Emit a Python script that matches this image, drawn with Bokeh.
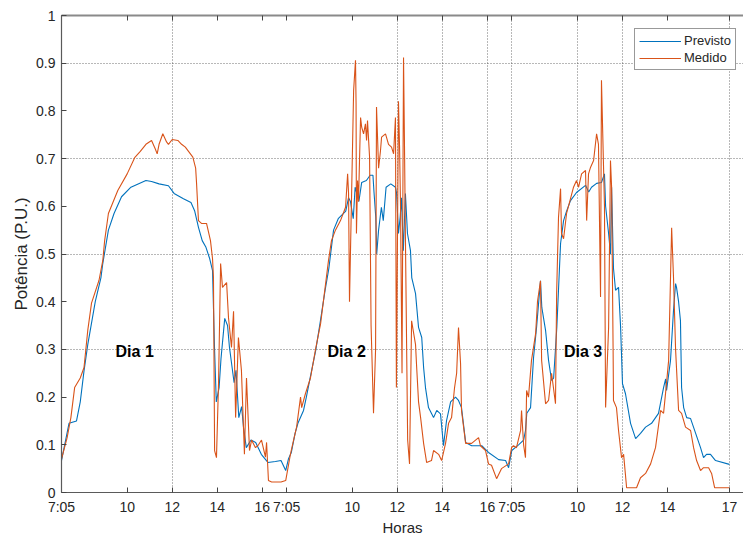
from bokeh.plotting import figure
from bokeh.models import FixedTicker, LinearAxis, Range1d, NumeralTickFormatter
from bokeh.core.properties import value
from bokeh.embed import file_html
from bokeh.resources import INLINE

FONT = "Liberation Sans"

# x = sample index (5-minute steps, 120 samples per day, 7:05 .. 17:00)
prev_idx = [0, 4, 8, 10, 12, 14, 18, 21, 22, 25, 28, 32, 37, 45, 48, 52, 57, 60, 65, 69, 71, 73, 75, 77, 79,
            80.5, 81.5, 82.5, 84, 85, 87, 88.5, 89.5, 92, 93, 94.5, 96, 97, 98.5, 101, 103.5, 106.5, 110, 114, 117, 119.5,
            121, 122.5, 124.5, 126, 129, 130.5, 132.5, 135.5, 138, 140.5, 142.5, 145, 147.5, 151.5, 153, 154, 155.5,
            156.5, 158.5, 160, 162.5, 164.5, 166, 166.5, 167.5, 168, 169, 170.5, 171.5, 173, 175.5, 178, 178.6, 179.6,
            180.5, 181.2, 182.2, 183.3, 184.4, 186, 186.7, 188.7, 190.3, 192, 193, 194, 195.6, 198.3, 200, 202, 203.6,
            205.2, 207.4, 210, 211.6, 213.2, 215.4, 218.6, 224, 227.6, 233, 236.7, 238.3,
            240, 243.6, 246.3, 247.3, 248, 250, 251.6, 253.2, 255.3, 256, 258, 259.6, 261.2, 262.3, 264, 266, 267.6,
            269.2, 271.3, 274.5, 279.3, 281, 282.5, 285.2, 287.8, 289.4, 290, 291.6, 292.6, 293.2, 294.2, 295.3, 296.9,
            298, 299, 300.6, 303.3, 306, 308.6, 311.3, 314.5, 318.2, 320.9, 322, 322.5, 324.6, 326.2, 327.3, 327.8,
            328.9, 329.9, 330.5, 331.6, 333.2, 335.3, 338, 340.6, 342.2, 343.8, 345.9, 348.6, 356]
prev_val = [0.067, 0.145, 0.15, 0.19, 0.255, 0.31, 0.40, 0.45, 0.48, 0.55, 0.585, 0.62, 0.64, 0.654, 0.652, 0.647,
            0.643, 0.627, 0.616, 0.608, 0.59, 0.556, 0.528, 0.514, 0.49,
            0.465, 0.31, 0.19, 0.22, 0.28, 0.365, 0.35, 0.305, 0.23, 0.256, 0.157, 0.18, 0.137, 0.094, 0.11, 0.105,
            0.08, 0.063, 0.065, 0.067, 0.046,
            0.071, 0.084, 0.124, 0.145, 0.172, 0.2, 0.24, 0.298, 0.36, 0.424, 0.47, 0.55, 0.574, 0.59, 0.618, 0.61,
            0.574, 0.64, 0.61, 0.65, 0.654, 0.665, 0.665, 0.633, 0.577, 0.5, 0.55, 0.598, 0.57, 0.64, 0.647, 0.64,
            0.627, 0.543, 0.577, 0.618, 0.507, 0.627, 0.543, 0.507, 0.45, 0.417, 0.346, 0.325, 0.262, 0.22, 0.178,
            0.157, 0.172, 0.165, 0.098, 0.15, 0.19, 0.2, 0.193, 0.178, 0.105, 0.098, 0.098, 0.084, 0.069, 0.067, 0.052,
            0.088, 0.1, 0.11, 0.13, 0.166, 0.178, 0.283, 0.346, 0.444, 0.388, 0.34, 0.277, 0.235, 0.24, 0.346, 0.522,
            0.57, 0.59, 0.612, 0.629, 0.644, 0.63, 0.64, 0.648, 0.65, 0.668, 0.6, 0.543, 0.5, 0.64, 0.47, 0.424, 0.43,
            0.346, 0.228, 0.207, 0.145, 0.113, 0.124, 0.137, 0.145, 0.166, 0.22, 0.238, 0.214, 0.277, 0.382, 0.438,
            0.43, 0.4, 0.36, 0.22, 0.178, 0.157, 0.155, 0.124, 0.094, 0.073, 0.08, 0.08, 0.067, 0.059]

med_idx = [0, 3, 5, 7, 10, 12, 14, 16, 20, 22, 23, 25, 30, 35, 39, 42, 45, 48, 50, 51, 52, 54, 56, 57, 59, 62, 64,
           66, 70, 71.5, 72, 73, 74.6, 77.3, 79.4, 80.5, 81, 81.6, 82.6, 83.7, 84.8, 85.8, 88, 89, 90.6, 91.7, 92.8,
           94.3, 95.9, 97.5, 98.6, 100.2, 101.3, 103.4, 105, 106.6, 108.7, 109.3, 110.3, 112, 117, 119.5,
           122, 123.7, 125.3, 127.4, 128, 130, 132.7, 135.4, 138.1, 142.3, 143.9, 146, 148.7, 151.4, 152.5, 153,
           153.5, 155.7, 156.7, 157, 157.2, 157.8, 158.3, 159.4, 160, 161, 162, 162.6, 163.1, 164.2, 165, 166.3,
           167.4, 167.9, 169, 170, 170.6, 172.7, 174.3, 175.9, 177, 178, 178.5, 179.6, 180.2, 180.7, 181.5, 182.3,
           182.8, 183.4, 184.5, 185.5, 186.6, 188.7, 189.2, 190.3, 191.4, 193, 194.6, 197.2, 198.3, 201, 202.6,
           204.7, 206.3, 207.9, 209.5, 210.6, 211.6, 212.7, 213.2, 215.4, 218.6, 222.3, 223.3, 226, 227.6, 229.2,
           231.9, 234.5, 238.3,
           239.9, 240.9, 242.5, 244.7, 245.2, 246.3, 247.3, 247.9, 248.9, 250.5, 252.7, 253.7, 255.3, 255.9, 258,
           259.6, 261.2, 263.3, 263.9, 264.9, 266, 266.5, 267.6, 269.2, 271.3, 272.9, 274.5, 275.6, 277.2, 279.3,
           279.9, 280.9, 282, 283.6, 285.2, 286.2, 287.3, 287.8, 289.4, 290, 291.6, 292.6, 293.2, 294, 294.2, 295.8,
           296.9, 298.5, 299.6, 301.2, 306.5, 308.6, 311.3, 314, 316.6, 319.3, 320.9, 322, 323.6, 325.2, 326.2,
           327.3, 328.9, 330.5, 332.6, 335.3, 336.9, 338.5, 340.6, 342.2, 344.9, 346.5, 348.1, 356]
med_val = [0.07, 0.115, 0.157, 0.22, 0.24, 0.262, 0.34, 0.397, 0.445, 0.486, 0.528, 0.585, 0.633, 0.668, 0.702,
           0.715, 0.73, 0.738, 0.72, 0.71, 0.73, 0.752, 0.735, 0.73, 0.74, 0.738, 0.73, 0.724, 0.703, 0.68, 0.647,
           0.57, 0.564, 0.564, 0.528, 0.49, 0.45, 0.088, 0.073, 0.23, 0.48, 0.43, 0.44, 0.367, 0.304, 0.38, 0.157,
           0.325, 0.256, 0.08, 0.24, 0.088, 0.11, 0.094, 0.1, 0.11, 0.074, 0.105, 0.025, 0.022, 0.022, 0.025,
           0.08, 0.11, 0.137, 0.2, 0.178, 0.207, 0.24, 0.3, 0.354, 0.486, 0.528, 0.55, 0.57, 0.598, 0.668, 0.627,
           0.4, 0.843, 0.906, 0.815, 0.543, 0.654, 0.61, 0.786, 0.766, 0.752, 0.773, 0.738, 0.78, 0.703, 0.35, 0.166,
           0.3, 0.808, 0.68, 0.716, 0.745, 0.752, 0.73, 0.724, 0.71, 0.786, 0.22, 0.82, 0.72, 0.6, 0.25, 0.912,
           0.73, 0.5, 0.11, 0.06, 0.36, 0.31, 0.27, 0.19, 0.157, 0.103, 0.063, 0.067, 0.088, 0.08, 0.067,
           0.103, 0.145, 0.157, 0.22, 0.25, 0.346, 0.27, 0.172, 0.103, 0.103, 0.115, 0.098, 0.088, 0.06, 0.057,
           0.029, 0.05, 0.06,
           0.094, 0.098, 0.094, 0.13, 0.172, 0.1, 0.073, 0.214, 0.2, 0.277, 0.333, 0.4, 0.444, 0.277, 0.186,
           0.193, 0.25, 0.186, 0.417, 0.577, 0.637, 0.543, 0.532, 0.585, 0.616, 0.64, 0.654, 0.64, 0.668, 0.675,
           0.57, 0.668, 0.682, 0.696, 0.752, 0.73, 0.41, 0.864, 0.6, 0.178, 0.346, 0.696, 0.64, 0.3, 0.193, 0.178,
           0.13, 0.073, 0.08, 0.01, 0.01, 0.031, 0.04, 0.06, 0.094, 0.172, 0.166, 0.21, 0.277, 0.555, 0.45,
           0.3, 0.172, 0.166, 0.137, 0.13, 0.094, 0.067, 0.046, 0.052, 0.052, 0.04, 0.01, 0.01]

series_names = ["Previsto", "Medido"]
series_colors = ["#0072BD", "#D95319"]

x_ticks = [0, 35, 59, 83, 107, 120, 155, 179, 203, 227, 240, 275, 299, 323, 356]
x_labels = ["7:05", "10", "12", "14", "16", "7:05", "10", "12", "14", "16", "7:05", "10", "12", "14", "17"]
x_grid = [59, 179, 203, 227, 240, 275, 299, 356]
y_ticks = [0, 0.1, 0.2, 0.3, 0.4, 0.5, 0.6, 0.7, 0.8, 0.9, 1.0]
y_grid = [0.3, 0.5, 0.7, 0.9]

day_labels = ["Dia 1", "Dia 2", "Dia 3"]
day_label_x = [39, 152, 278]
day_label_y = [0.295, 0.295, 0.295]

p = figure(frame_width=682, frame_height=477, x_range=Range1d(0, 363.5), y_range=Range1d(0, 1),
           output_backend="svg", toolbar_location=None,
           min_border_left=61, min_border_right=0, min_border_top=15, min_border_bottom=10,
           x_axis_label="Horas", y_axis_label="Potência (P.U.)")
p.outline_line_color = None
p.background_fill_color = "white"
p.border_fill_color = "white"

p.xaxis.ticker = FixedTicker(ticks=x_ticks)
p.xaxis.major_label_overrides = {t: l for t, l in zip(x_ticks, x_labels)}
p.yaxis.ticker = FixedTicker(ticks=y_ticks)
p.yaxis.formatter = NumeralTickFormatter(format="0.[0]")

for ax in (p.xaxis, p.yaxis):
    ax.major_tick_in = 5
    ax.major_tick_out = 0
    ax.minor_tick_line_color = None
    ax.axis_line_color = "#5a5a5a"
    ax.axis_line_width = 1.2
    ax.major_tick_line_color = "#444444"
    ax.major_label_text_font = FONT
    ax.major_label_text_font_size = "14px"
    ax.major_label_text_color = "#262626"
    ax.axis_label_text_font = FONT
    ax.axis_label_text_font_style = "normal"
    ax.axis_label_text_color = "#262626"
p.xaxis.axis_label_text_font_size = "15px"
p.yaxis.axis_label_text_font_size = "17px"
p.xaxis.major_label_standoff = 6
p.xaxis.axis_label_standoff = 1
p.yaxis.major_label_standoff = 6
p.yaxis.axis_label_standoff = 2

top = LinearAxis(ticker=FixedTicker(ticks=x_ticks), major_tick_in=5, major_tick_out=0,
                 minor_tick_line_color=None, major_label_standoff=0,
                 major_label_overrides={t: "" for t in x_ticks},
                 axis_line_color="#8a8a8a", axis_line_width=2,
                 major_tick_line_color="#444444")
p.add_layout(top, "above")

p.xgrid.ticker = FixedTicker(ticks=x_grid)
p.ygrid.ticker = FixedTicker(ticks=y_grid)
for g in (p.xgrid, p.ygrid):
    g.grid_line_color = "#333333"
    g.grid_line_dash = "1 2"
    g.grid_line_alpha = 0.7
    g.grid_line_width = 1

p.line(prev_idx, prev_val, line_color=series_colors[0], line_width=1.1, legend_label=series_names[0])
p.line(med_idx, med_val, line_color=series_colors[1], line_width=1.1, legend_label=series_names[1])

p.text(x=day_label_x, y=day_label_y, text=day_labels, text_font=value(FONT), text_font_style="bold",
       text_font_size="16px", text_align="center", text_baseline="middle", text_color="black")

lg = p.legend[0]
lg.location = (573, 422)
lg.border_line_color = "#333333"
lg.border_line_width = 1
lg.background_fill_color = "white"
lg.background_fill_alpha = 1
lg.label_text_font = FONT
lg.label_text_font_size = "13px"
lg.label_text_color = "#262626"
lg.glyph_width = 42
lg.glyph_height = 14
lg.label_height = 14
lg.spacing = 2
lg.padding = 4
lg.margin = 0
lg.label_standoff = 3

open("out.html", "w").write(file_html(p, INLINE))
